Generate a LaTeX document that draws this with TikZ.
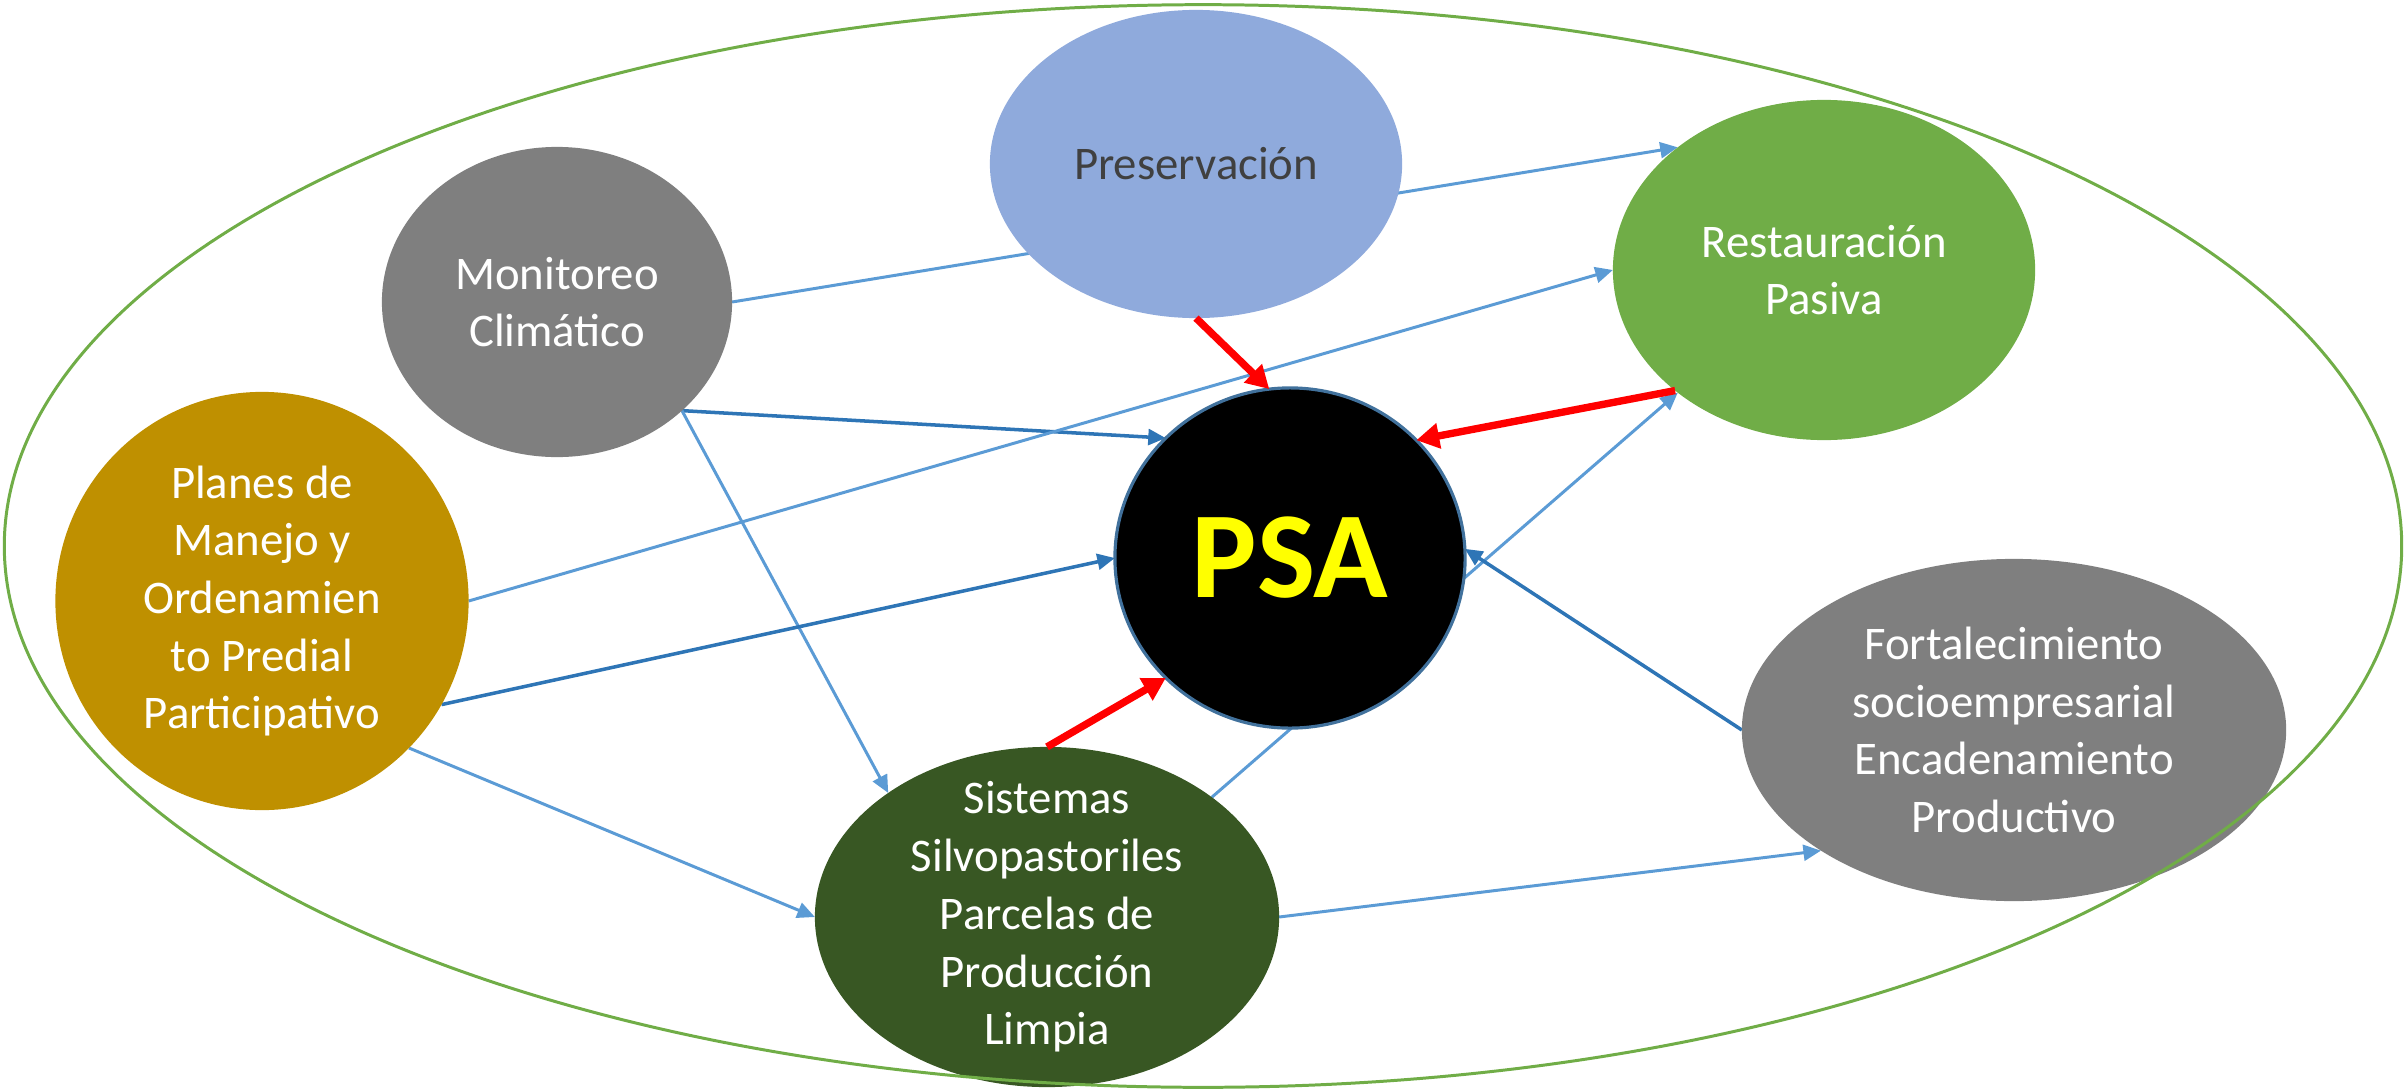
\documentclass[tikz,border=0pt]{standalone}
\usepackage{fontspec}
\setmainfont{Carlito}
\usetikzlibrary{shapes.geometric,arrows.meta}
\pgfdeclarelayer{bg}
\pgfsetlayers{bg,main}
\definecolor{presblue}{HTML}{8FAADC}
\definecolor{resgreen}{HTML}{70AD47}
\definecolor{nodegray}{HTML}{7F7F7F}
\definecolor{plagold}{HTML}{BF9000}
\definecolor{sisgreen}{HTML}{385723}
\definecolor{darktext}{HTML}{404040}
\definecolor{lblue}{HTML}{5B9BD5}
\definecolor{dblue}{HTML}{2E75B6}
\definecolor{psaline}{HTML}{41719C}
\definecolor{psayellow}{HTML}{FFFF00}
\definecolor{outgreen}{HTML}{70AD47}
\begin{document}
\begin{tikzpicture}[x=0.01cm,y=-0.01cm,
  blob/.style={ellipse,inner sep=0pt,outer sep=0pt},
  lab/.style={text=white,align=center,inner sep=0pt,font=\fontsize{13.3}{16.4}\selectfont},
  lb/.style={draw=lblue,line width=0.85pt,-{Triangle[length=5pt,width=4.5pt]}},
  db/.style={draw=dblue,line width=1pt,-{Triangle[length=5pt,width=4.5pt]}},
  rd/.style={draw=red,line width=2.1pt,-{Triangle[length=6.5pt,width=7pt]}}]
\useasboundingbox (0,0) rectangle (2407,1088);

\node[blob,fill=presblue,minimum width=4.12cm,minimum height=3.08cm,
  label={[lab,text=darktext]center:Preservación}] (pres) at (1196,164) {};
\node[blob,fill=resgreen,minimum width=4.22cm,minimum height=3.40cm,
  label={[lab]center:Restauración\\Pasiva}] (res) at (1824,270) {};
\node[blob,fill=nodegray,minimum width=3.50cm,minimum height=3.10cm,
  label={[lab]center:Monitoreo\\Climático}] (mon) at (557,302) {};
\node[blob,fill=black,draw=psaline,line width=0.9pt,minimum width=3.50cm,minimum height=3.40cm,
  label={[inner sep=0pt,text=psayellow,font=\fontsize{35}{40}\selectfont\bfseries]center:PSA}] (psa) at (1290,558) {};
\node[blob,fill=plagold,minimum width=4.13cm,minimum height=4.18cm,
  label={[lab]center:Planes de\\Manejo y\\Ordenamien\\to Predial\\Participativo}] (pla) at (262,601) {};
\node[blob,fill=sisgreen,minimum width=4.64cm,minimum height=3.40cm,
  label={[lab]center:Sistemas\\Silvopastoriles\\Parcelas de\\Producción\\Limpia}] (sis) at (1047,917) {};
\node[blob,fill=nodegray,minimum width=5.44cm,minimum height=3.42cm,
  label={[lab]center:Fortalecimiento\\socioempresarial\\Encadenamiento\\Productivo}] (fort) at (2014,730) {};

\begin{pgfonlayer}{bg}
\draw[lb] (mon.east) -- (res.140);
\draw[db] (mon.-41) -- (psa.136);
\draw[lb] (mon.-41) -- (sis.142);
\draw[lb] (pla.east) -- (res.west);
\draw[db] (pla.-30) -- (psa.west);
\draw[lb] (pla.-45) -- (sis.west);
\draw[lb] (sis.36) -- (res.220);
\draw[lb] (sis.east) -- (fort.212);
\draw[db] (fort.west) -- (psa.3);
\end{pgfonlayer}

\draw[rd] (pres.south) -- (psa.97);
\draw[rd] (res.219) -- (psa.43);
\draw[rd] (sis.north) -- (psa.224);

\node[ellipse,draw=outgreen,line width=0.85pt,inner sep=0pt,minimum width=23.96cm,minimum height=10.82cm] (outer) at (1203,546) {};
\end{tikzpicture}
\end{document}
